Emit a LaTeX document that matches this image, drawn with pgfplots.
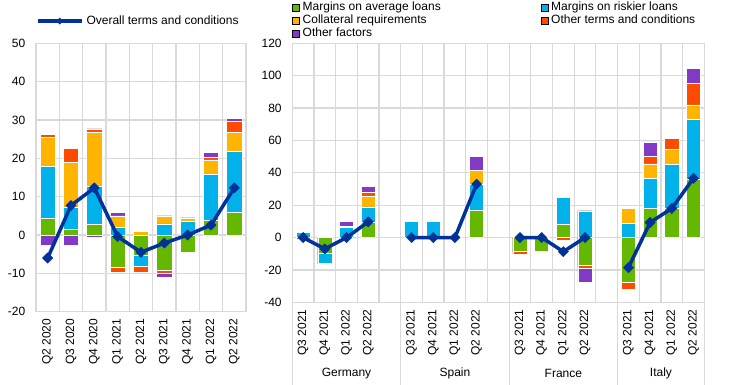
\documentclass[border=0pt]{standalone}
\usepackage{pgfplots}
\usepackage{pgfplotstable}
\pgfplotsset{compat=1.18}
\usepackage{fontspec}
\setmainfont{Liberation Sans}
\definecolor{ecbgreen}{HTML}{65B800}
\definecolor{ecbblue}{HTML}{00B1EA}
\definecolor{ecbyellow}{HTML}{FFB400}
\definecolor{ecbred}{HTML}{FF4B00}
\definecolor{ecbpurple}{HTML}{8139C6}
\definecolor{ecbdark}{HTML}{003299}
\definecolor{gridgray}{HTML}{D9D9D9}

% Left panel (euro area): positive and negative contributions
\pgfplotstableread{
x g b y r p
0 4.5 13.5 7.5 0.8 0
1 1.5 5.7 11.8 3.6 0
2 2.7 10.1 14.0 0.9 0
3 0 2.0 3.0 0 1.0
4 0 0 1.0 0 0
5 0 2.9 2.1 0 0
6 0 3.5 1.0 0 0
7 3.8 12.0 3.8 0.6 1.3
8 5.9 15.9 5.0 2.9 0.8
}\leftpos
\pgfplotstableread{
x g b y r p
0 0 0 0 0 -2.7
1 0 0 0 0 -2.6
2 0 0 0 0 -0.7
3 -8.3 0 0 -1.5 0
4 -5.2 -3.0 0 -1.5 0
5 -9.1 0 0 -1.0 -1.0
6 -4.5 0 0 0 0
7 0 0 0 0 0
8 0 0 0 0 0
}\leftneg
\pgfplotstableread{
x v
0 -6.0
1 7.7
2 12.3
3 -0.4
4 -4.5
5 -2.1
6 0.0
7 2.6
8 12.3
}\leftline

% Right panel (countries)
\pgfplotstableread{
x g b y r p
0 0 3.1 0 0 0
1 0 0 0 0 0
2 0 6.2 0 0.8 3.2
3 9.7 9.3 6.6 2.5 3.7
5 0 10.0 0 0 0
6 0 10.0 0 0 0
7 0 0 0 0 0
8 16.7 16.3 8.5 0 8.5
10 0 0 0 0 0
11 0 0 0 0 0
12 8.1 16.7 0 0 0
13 0 16.5 0 0 0
15 0 8.8 9.2 0 0
16 18.0 18.4 9.1 4.5 9.1
17 18.0 27.2 9.3 6.9 0
18 36.2 36.7 9.1 13.4 9.1
}\rightpos
\pgfplotstableread{
x g b y r p
0 0 0 0 -1.0 0
1 -9.9 -6.1 0 -0.3 0
2 0 0 0 0 0
3 0 0 0 0 0
5 0 0 0 0 0
6 0 0 0 0 0
7 0 0 0 0 0
8 0 0 0 0 0
10 -8.7 0 0 -1.7 0
11 -8.3 0 0 0 0
12 0 0 0 -1.7 0
13 -17.1 0 0 -1.7 -8.7
15 -27.5 0 0 -4.7 0
16 0 0 0 0 0
17 0 0 0 0 0
18 0 0 0 0 0
}\rightneg
\pgfplotstableread{
x v
0 0
1 -7.0
2 0
3 9.7
4 nan
5 0
6 0
7 0
8 33.0
9 nan
10 0
11 0
12 -8.7
13 0
14 nan
15 -18.6
16 9.3
17 18.0
18 36.6
}\rightline

\tikzset{lbl/.style={font=\fontsize{12}{14}\selectfont},
  gl/.style={draw=gridgray, line width=1.2pt}}
\pgfplotsset{
  leftdims/.style={scale only axis, anchor=south west, at={(36pt,72.3pt)},
    width=210pt, height=268.4pt, xmin=-0.5, xmax=8.5, ymin=-20, ymax=50, clip=false},
  rightdims/.style={scale only axis, anchor=south west, at={(292.3pt,81.7pt)},
    width=412pt, height=259pt, xmin=-0.5, xmax=18.5, ymin=-40, ymax=120, clip=false},
  frame/.style={
    ybar, bar width=0.65, bar shift=0pt,
    major tick length=0pt, minor tick length=0pt,
    axis line style={draw=gridgray, line width=1.2pt},
    /pgf/number format/assume math mode=true,
    tick label style={lbl},
    yticklabel style={anchor=east, inner sep=0pt, xshift=-10.5pt},
    xticklabel style={rotate=90, anchor=east, inner sep=0pt, xshift=-7pt},
  },
  seg/.style={fill=#1, draw=white, line width=0.5pt, forget plot},
  overall/.style={sharp plot, ecbdark, line width=3.5pt, line join=round, mark=square*,
    mark size=3.7pt, mark options={rotate=45, line width=0.3pt, fill=ecbdark}},
}
% cumulative tops of the stacks, drawn from the outermost segment inwards
\def\cA{\thisrow{g}}
\def\cB{\thisrow{g}+\thisrow{b}}
\def\cC{\thisrow{g}+\thisrow{b}+\thisrow{y}}
\def\cD{\thisrow{g}+\thisrow{b}+\thisrow{y}+\thisrow{r}}
\def\cE{\thisrow{g}+\thisrow{b}+\thisrow{y}+\thisrow{r}+\thisrow{p}}

\begin{document}
\begin{tikzpicture}
\useasboundingbox (0,0) rectangle (744pt,384pt);

% ===== Left panel =====
\begin{axis}[leftdims, frame,
  ytick={-20,-10,...,50},
  xtick={0,...,8},
  xticklabels={Q2 2020,Q3 2020,Q4 2020,Q1 2021,Q2 2021,Q3 2021,Q4 2021,Q1 2022,Q2 2022},
  legend cell align=left,
  legend style={at={(axis description cs:0,1.083)}, anchor=west, draw=none, fill=none,
    inner sep=0pt, outer sep=0pt, nodes={inner sep=0pt, lbl},
    /tikz/every odd column/.style={column sep=3pt}},
  legend image code/.code={\draw[mark repeat=2,mark phase=2,#1,mark size=2.3pt]
    plot coordinates {(0pt,0pt) (22pt,0pt) (44pt,0pt)};}]
% grid
\draw[gl] (axis cs:-0.5,-20) -- (axis cs:8.5,-20);
\draw[gl] (axis cs:-0.5,-10) -- (axis cs:8.5,-10);
\draw[gl] (axis cs:-0.5,0) -- (axis cs:8.5,0);
\draw[gl] (axis cs:-0.5,10) -- (axis cs:8.5,10);
\draw[gl] (axis cs:-0.5,20) -- (axis cs:8.5,20);
\draw[gl] (axis cs:-0.5,30) -- (axis cs:8.5,30);
\draw[gl] (axis cs:-0.5,40) -- (axis cs:8.5,40);
\draw[gl] (axis cs:-0.5,50) -- (axis cs:8.5,50);
\draw[gl] (axis cs:-0.5,-20) -- (axis cs:-0.5,50);
\draw[gl] (axis cs:0.5,-20) -- (axis cs:0.5,50);
\draw[gl] (axis cs:1.5,-20) -- (axis cs:1.5,50);
\draw[gl] (axis cs:2.5,-20) -- (axis cs:2.5,50);
\draw[gl] (axis cs:3.5,-20) -- (axis cs:3.5,50);
\draw[gl] (axis cs:4.5,-20) -- (axis cs:4.5,50);
\draw[gl] (axis cs:5.5,-20) -- (axis cs:5.5,50);
\draw[gl] (axis cs:6.5,-20) -- (axis cs:6.5,50);
\draw[gl] (axis cs:7.5,-20) -- (axis cs:7.5,50);
\draw[gl] (axis cs:8.5,-20) -- (axis cs:8.5,50);
% bars
\addplot[seg=ecbpurple] table[x=x,y expr=\cE]{\leftpos};
\addplot[seg=ecbred] table[x=x,y expr=\cD]{\leftpos};
\addplot[seg=ecbyellow] table[x=x,y expr=\cC]{\leftpos};
\addplot[seg=ecbblue] table[x=x,y expr=\cB]{\leftpos};
\addplot[seg=ecbgreen] table[x=x,y expr=\cA]{\leftpos};
\addplot[seg=ecbpurple] table[x=x,y expr=\cE]{\leftneg};
\addplot[seg=ecbred] table[x=x,y expr=\cD]{\leftneg};
\addplot[seg=ecbyellow] table[x=x,y expr=\cC]{\leftneg};
\addplot[seg=ecbblue] table[x=x,y expr=\cB]{\leftneg};
\addplot[seg=ecbgreen] table[x=x,y expr=\cA]{\leftneg};
\addplot[overall] table[x=x,y=v]{\leftline};
\addlegendentry{Overall terms and conditions}
\end{axis}

% ===== Right panel =====
\begin{axis}[rightdims, frame, unbounded coords=jump,
  ytick={-40,-20,...,120},
  xtick={0,1,2,3,5,6,7,8,10,11,12,13,15,16,17,18},
  xticklabels={Q3 2021,Q4 2021,Q1 2022,Q2 2022,Q3 2021,Q4 2021,Q1 2022,Q2 2022,
               Q3 2021,Q4 2021,Q1 2022,Q2 2022,Q3 2021,Q4 2021,Q1 2022,Q2 2022},
  legend columns=2,
  legend cell align=left,
  legend style={at={(axis description cs:0,1.165)}, anchor=north west, draw=none, fill=none,
    inner sep=0pt, outer sep=0pt, row sep=0pt,
    nodes={inner sep=0pt, text height=9.5pt, text depth=3.8pt, lbl},
    /tikz/every odd column/.style={column sep=3pt},
    /tikz/every even column/.style={column sep=100pt}},
  legend image code/.code={\fill[#1] (0pt,-3.5pt) rectangle (7pt,3.5pt);}]
\addlegendimage{fill=ecbgreen}
\addlegendentry{Margins on average loans}
\addlegendimage{fill=ecbblue}
\addlegendentry{Margins on riskier loans}
\addlegendimage{fill=ecbyellow}
\addlegendentry{Collateral requirements}
\addlegendimage{fill=ecbred}
\addlegendentry{Other terms and conditions}
\addlegendimage{fill=ecbpurple}
\addlegendentry{Other factors}
% grid
\draw[gl] (axis cs:-0.5,-40) -- (axis cs:18.5,-40);
\draw[gl] (axis cs:-0.5,-20) -- (axis cs:18.5,-20);
\draw[gl] (axis cs:-0.5,0) -- (axis cs:18.5,0);
\draw[gl] (axis cs:-0.5,20) -- (axis cs:18.5,20);
\draw[gl] (axis cs:-0.5,40) -- (axis cs:18.5,40);
\draw[gl] (axis cs:-0.5,60) -- (axis cs:18.5,60);
\draw[gl] (axis cs:-0.5,80) -- (axis cs:18.5,80);
\draw[gl] (axis cs:-0.5,100) -- (axis cs:18.5,100);
\draw[gl] (axis cs:-0.5,120) -- (axis cs:18.5,120);
\draw[gl] (axis cs:-0.5,-91) -- (axis cs:-0.5,120);
\draw[gl] (axis cs:0.5,-40) -- (axis cs:0.5,120);
\draw[gl] (axis cs:1.5,-40) -- (axis cs:1.5,120);
\draw[gl] (axis cs:2.5,-40) -- (axis cs:2.5,120);
\draw[gl] (axis cs:3.5,-40) -- (axis cs:3.5,120);
\draw[gl] (axis cs:4.5,-91) -- (axis cs:4.5,120);
\draw[gl] (axis cs:5.5,-40) -- (axis cs:5.5,120);
\draw[gl] (axis cs:6.5,-40) -- (axis cs:6.5,120);
\draw[gl] (axis cs:7.5,-40) -- (axis cs:7.5,120);
\draw[gl] (axis cs:8.5,-40) -- (axis cs:8.5,120);
\draw[gl] (axis cs:9.5,-91) -- (axis cs:9.5,120);
\draw[gl] (axis cs:10.5,-40) -- (axis cs:10.5,120);
\draw[gl] (axis cs:11.5,-40) -- (axis cs:11.5,120);
\draw[gl] (axis cs:12.5,-40) -- (axis cs:12.5,120);
\draw[gl] (axis cs:13.5,-40) -- (axis cs:13.5,120);
\draw[gl] (axis cs:14.5,-91) -- (axis cs:14.5,120);
\draw[gl] (axis cs:15.5,-40) -- (axis cs:15.5,120);
\draw[gl] (axis cs:16.5,-40) -- (axis cs:16.5,120);
\draw[gl] (axis cs:17.5,-40) -- (axis cs:17.5,120);
\draw[gl] (axis cs:18.5,-91) -- (axis cs:18.5,120);
% bars
\addplot[seg=ecbpurple] table[x=x,y expr=\cE]{\rightpos};
\addplot[seg=ecbred] table[x=x,y expr=\cD]{\rightpos};
\addplot[seg=ecbyellow] table[x=x,y expr=\cC]{\rightpos};
\addplot[seg=ecbblue] table[x=x,y expr=\cB]{\rightpos};
\addplot[seg=ecbgreen] table[x=x,y expr=\cA]{\rightpos};
\addplot[seg=ecbpurple] table[x=x,y expr=\cE]{\rightneg};
\addplot[seg=ecbred] table[x=x,y expr=\cD]{\rightneg};
\addplot[seg=ecbyellow] table[x=x,y expr=\cC]{\rightneg};
\addplot[seg=ecbblue] table[x=x,y expr=\cB]{\rightneg};
\addplot[seg=ecbgreen] table[x=x,y expr=\cA]{\rightneg};
\addplot[overall, forget plot] table[x=x,y=v]{\rightline};
\node[lbl] at (axis cs:2,-84) {Germany};
\node[lbl] at (axis cs:7,-84) {Spain};
\node[lbl] at (axis cs:12,-84) {France};
\node[lbl] at (axis cs:16.5,-84) {Italy};
\end{axis}
\end{tikzpicture}
\end{document}
